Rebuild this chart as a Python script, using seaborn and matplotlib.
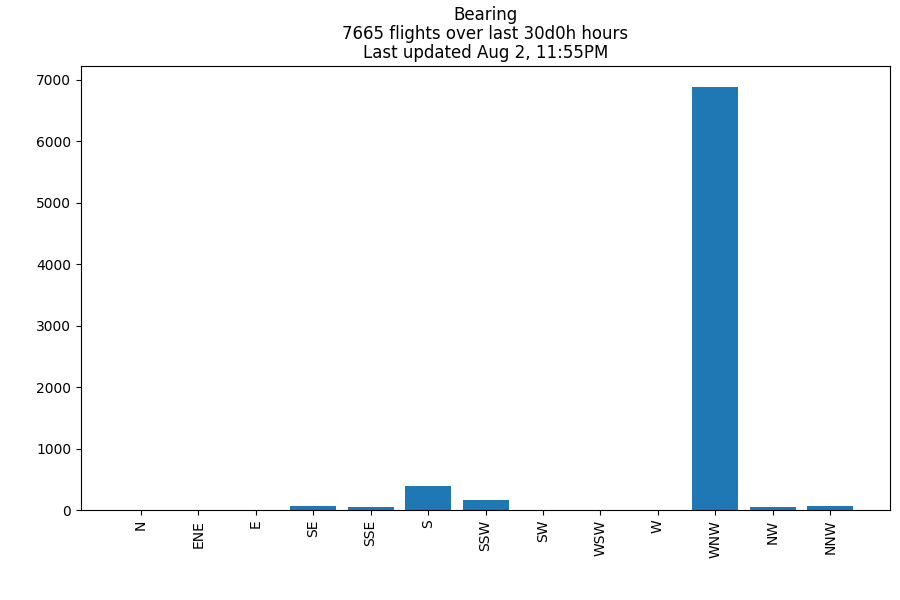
# Bearing histogram of flights
import pandas as pd
import matplotlib
matplotlib.use("Agg")
import matplotlib.pyplot as plt
import seaborn as sns

# bearing categories and flight counts
bearings = ["N", "ENE", "E", "SE", "SSE", "S", "SSW", "SW", "WSW", "W", "WNW", "NW", "NNW"]
counts = [0, 0, 0, 65, 50, 390, 165, 0, 0, 0, 6880, 50, 65]

df = pd.DataFrame({"bearing": bearings, "count": counts})

fig, ax = plt.subplots(figsize=(9, 6), dpi=100)
sns.barplot(data=df, x="bearing", y="count", color="#1f77b4", saturation=1,
            width=0.8, ax=ax)

# same limits matplotlib's plain bar() would give
n = len(bearings)
ax.set_xlim(-0.4 - 0.05 * (n - 0.2), n - 0.6 + 0.05 * (n - 0.2))
ax.set_ylim(0, max(counts) * 1.05)
ax.set_xlabel("")
ax.set_ylabel("")
ax.tick_params(axis="x", labelrotation=90)
ax.set_title("Bearing\n7665 flights over last 30d0h hours\nLast updated Aug 2, 11:55PM",
             linespacing=1.05)

plt.subplots_adjust(left=0.09, right=0.989, top=0.89, bottom=0.15)
plt.savefig("out.png")
